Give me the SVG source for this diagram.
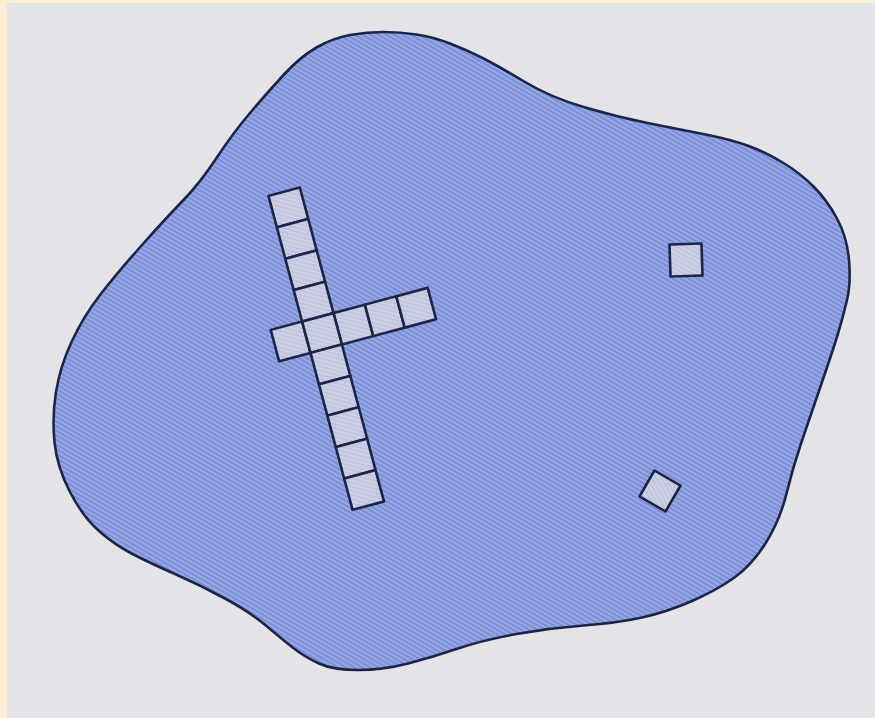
<svg xmlns="http://www.w3.org/2000/svg" width="875" height="718" viewBox="0 0 875 718">
  <defs>
    <pattern id="hatch" width="4" height="4" patternUnits="userSpaceOnUse" patternTransform="rotate(30)">
      <rect width="4" height="4" fill="#97a8e6"/>
      <rect y="0" width="4" height="1.6" fill="#7689d2"/>
    </pattern>
    <pattern id="hatchLight" width="4" height="4" patternUnits="userSpaceOnUse" patternTransform="rotate(30)">
      <rect width="4" height="4" fill="#cdd0e4"/>
      <rect y="0" width="4" height="1.4" fill="#bcc0dc"/>
    </pattern>
  </defs>
  <style>
    .sq { fill: url(#hatchLight); stroke: #1c2547; stroke-width: 2.6; stroke-linejoin: round; }
    .outline { fill: url(#hatch); stroke: #1c2547; stroke-width: 2.6; }
  </style>
  <rect width="875" height="718" fill="#fcefd3"/>
  <rect x="7" y="3" width="868" height="715" fill="#e3e3e8"/>
  <g id="blob">
    <path class="outline" d="M 383.5,32 Q 400,32 416.5,34.5 Q 433,37 450,43.5 Q 467,50 483.5,58.5 Q 500,67 525,82 Q 550,97 583.5,107 Q 617,117 650,123.5 Q 683,130 708,135 Q 733,140 750,146.5 Q 767,153 783.5,163 Q 800,173 813.5,186.5 Q 827,200 837,218.5 Q 847,237 849,260 Q 851,283 847,300 Q 843,317 838,333.5 Q 833,350 821.5,383.5 Q 810,417 801.5,442 Q 793,467 786.5,493.5 Q 780,520 766,542.5 Q 752,565 734.5,577.5 Q 717,590 692,601 Q 667,612 642,617.5 Q 617,623 583.5,625.5 Q 550,628 516.5,634 Q 483,640 458,648.5 Q 433,657 408,663.5 Q 383,670 358,670 Q 333,670 319,663.5 Q 305,657 294,648.5 Q 283,640 266.5,626 Q 250,612 225,598.5 Q 200,585 175,574 Q 150,563 132.5,554 Q 115,545 99,531 Q 83,517 70,492 Q 57,467 54.5,442 Q 52,417 56,392 Q 60,367 71.5,342 Q 83,317 100,295 Q 117,273 142,245 Q 167,217 183.5,200 Q 200,183 216.5,158 Q 233,133 250,113 Q 267,93 283.5,75 Q 300,57 316.5,47.5 Q 333,38 350,35 Q 367,32 383.5,32 Z"/>
  </g>
  <g id="cross" transform="translate(322,333) rotate(-15)">
    <rect class="sq" x="-16.25" y="-146.25" width="32.5" height="32.5"/>
    <rect class="sq" x="-16.25" y="-113.75" width="32.5" height="32.5"/>
    <rect class="sq" x="-16.25" y="-81.25" width="32.5" height="32.5"/>
    <rect class="sq" x="-16.25" y="-48.75" width="32.5" height="32.5"/>
    <rect class="sq" x="-48.75" y="-16.25" width="32.5" height="32.5"/>
    <rect class="sq" x="16.25" y="-16.25" width="32.5" height="32.5"/>
    <rect class="sq" x="48.75" y="-16.25" width="32.5" height="32.5"/>
    <rect class="sq" x="81.25" y="-16.25" width="32.5" height="32.5"/>
    <rect class="sq" x="-16.25" y="-16.25" width="32.5" height="32.5"/>
    <rect class="sq" x="-16.25" y="16.25" width="32.5" height="32.5"/>
    <rect class="sq" x="-16.25" y="48.75" width="32.5" height="32.5"/>
    <rect class="sq" x="-16.25" y="81.25" width="32.5" height="32.5"/>
    <rect class="sq" x="-16.25" y="113.75" width="32.5" height="32.5"/>
    <rect class="sq" x="-16.25" y="146.25" width="32.5" height="32.5"/>
  </g>
  <g id="square-upper" transform="translate(686,260) rotate(-2)">
    <rect class="sq" x="-16" y="-16" width="32" height="32"/>
  </g>
  <g id="square-lower" transform="translate(660,491) rotate(30)">
    <rect class="sq" x="-15" y="-15" width="30" height="30"/>
  </g>
</svg>
